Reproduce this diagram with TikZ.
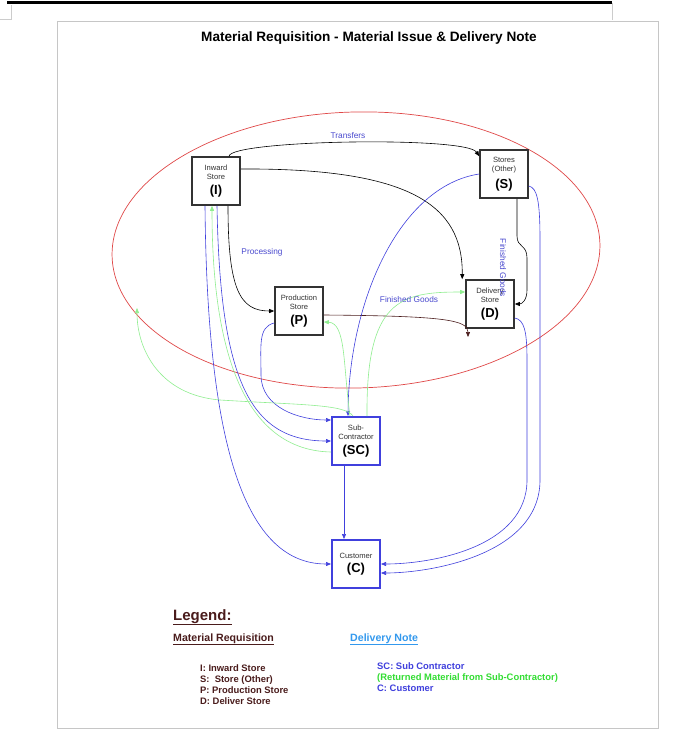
\documentclass[tikz,border=0pt]{standalone}
\usepackage{fontspec}
\setmainfont{Liberation Sans}
\usetikzlibrary{arrows.meta}
\definecolor{dnblue}{HTML}{4040DD}
\definecolor{rmgreen}{HTML}{90EE90}
\definecolor{mrbrown}{HTML}{4A1C1C}
\definecolor{lblblue}{HTML}{4A4ACF}
\definecolor{elred}{HTML}{E04848}
\definecolor{legblue}{HTML}{3399EE}
\definecolor{boxgray}{HTML}{333333}
\definecolor{listgreen}{HTML}{33DD33}
\newcommand{\storetext}[2]{#1\\[5pt]{\fontsize{13}{14}\selectfont\bfseries\color{black}(#2)}}

\begin{document}
\begin{tikzpicture}[x=1pt,y=-1pt,
    store/.style={draw=boxgray,line width=1.6pt,minimum width=48pt,minimum height=48pt,inner sep=0pt,align=center,text=boxgray,font=\fontsize{7.6}{9.5}\selectfont},
    dstore/.style={store,draw=dnblue,line width=2pt},
    flow/.style={-{Triangle[length=5pt,width=4pt]},line width=0.6pt},
    mr/.style={flow,black},
    dn/.style={flow,dnblue},
    rm/.style={flow,rmgreen},
    tag/.style={font=\fontsize{8.3}{10}\selectfont,text=lblblue,inner sep=0pt}]
    \fill[white] (0,0) rectangle (697,751);
    \useasboundingbox (0,0) rectangle (697,751);

    % page
    \draw[line width=3pt] (7,3) -- (612,3);
    \draw[gray!40] (612,3) -- (612,20);
    \draw[gray!40] (0,19) -- (11,19) -- (11,5);
    \draw[gray!45] (57,21) rectangle (658,728);
    \node (title) at (369,38) [font=\fontsize{13.6}{16}\selectfont\bfseries] {Material Requisition - Material Issue \& Delivery Note};

    \draw[elred,line width=0.7pt,rotate around={1.5:(356,250)}] (356,250) ellipse [x radius=244,y radius=138];

    \node (I) at (216,181) [store] {\storetext{Inward\\Store}{I}};
    \node (S) at (504,174) [store] {\storetext{Stores\\(Other)}{S}};
    \node (P) at (299,311) [store] {\storetext{Production\\Store}{P}};
    \node (D) at (490,304) [store] {\storetext{Delivery\\Store}{D}};
    \node (SC) at (356,441) [dstore] {\storetext{Sub-\\Contractor}{SC}};
    \node (C) at (356,564) [dstore] {\storetext{Customer}{C}};
    \coordinate (pd) at (468,337);
    \coordinate (rim) at (137,308);

    % material requisition
    \draw[mr] ([xshift=13pt]I.north) .. controls (231,140) and (466,136) .. ([yshift=-7pt]S.north west);
    \draw[mr] ([yshift=12pt]I.east) .. controls (410,168) and (463,205) .. ([xshift=-3pt]D.north west);
    \draw[mr] ([xshift=12pt]I.south) .. controls (228,290) and (240,311) .. (P.west);
    \draw[mr] ([xshift=13pt]S.south) -- (517,236) .. controls (517,248) and (527,244) .. (527,258) -- (527,290) .. controls (527,300) and (522,304) .. (D.east);
    \draw[mr,draw=mrbrown] ([yshift=-4pt]P.east) .. controls (445,316) and (468,320) .. (pd);

    % delivery note
    \draw[dn] (S.west) .. controls (400,186) and (349,300) .. ([xshift=-8pt]SC.north);
    \draw[dn] ([yshift=-12pt]S.east) .. controls (537,188) and (540,200) .. (540,240) -- (540,480) .. controls (540,555) and (430,573) .. ([yshift=-9pt]C.east);
    \draw[dn] ([yshift=-14pt]D.east) .. controls (524,320) and (527,330) .. (527,360) -- (527,480) .. controls (527,548) and (430,564) .. (C.east);
    \draw[dn] ([xshift=-11pt]I.south) .. controls (207,430) and (240,564) .. (C.west);
    \draw[dn] ([xshift=1pt]I.south) .. controls (220,380) and (250,441) .. (SC.west);
    \draw[dn] ([yshift=-12pt]P.west) .. controls (258,327) and (261,345) .. (261,375) .. controls (261,408) and (300,420) .. ([yshift=21pt]SC.west);
    \draw[dn] ([xshift=-12pt]SC.south) -- ([xshift=-12pt]C.north);

    % returned material
    \draw[rm] ([xshift=-6pt]SC.north) .. controls (343,365) and (346,323) .. ([yshift=-11pt]P.east);
    \draw[rm] ([xshift=11pt]SC.north) .. controls (366,300) and (400,292) .. ([yshift=12pt]D.west);
    \draw[rm] ([xshift=-3pt]SC.north) .. controls (345,404) and (300,405) .. (220,400) .. controls (160,395) and (137,350) .. (rim);
    \draw[rm] ([yshift=-11pt]SC.west) .. controls (235,450) and (212,330) .. ([xshift=-4pt]I.south);

    \node (transfers) at (348,136) [tag] {Transfers};
    \node (processing) at (262,252) [tag] {Processing};
    \node (fgoods) at (409,300) [tag] {Finished Goods};
    \node (fgoodsv) at (503,268) [tag,rotate=-90] {Finished Goods};

    % legend
    \node (legend) at (173,620) [anchor=base west,inner sep=0pt,text=mrbrown,font=\fontsize{15}{18}\selectfont\bfseries] {\underline{Legend:}};
    \node (mrhead) at (173,641) [anchor=base west,inner sep=0pt,text=mrbrown,font=\fontsize{10.6}{12}\selectfont\bfseries] {\underline{Material Requisition}};
    \node (dnhead) at (350,641) [anchor=base west,inner sep=0pt,text=legblue,font=\fontsize{10.6}{12}\selectfont\bfseries] {\underline{Delivery Note}};
    \node (mrlist) at (200,664) [anchor=north west,inner sep=0pt,align=left,text=mrbrown,font=\fontsize{9.4}{11}\selectfont\bfseries] {I: Inward Store\\S:\ \ Store (Other)\\P: Production Store\\D: Deliver Store};
    \node (dnlist) at (377,662) [anchor=north west,inner sep=0pt,align=left,font=\fontsize{9.4}{11}\selectfont\bfseries] {{\color{dnblue}SC: Sub Contractor}\\{\color{listgreen}(Returned Material from Sub-Contractor)}\\{\color{dnblue}C: Customer}};
\end{tikzpicture}
\end{document}
